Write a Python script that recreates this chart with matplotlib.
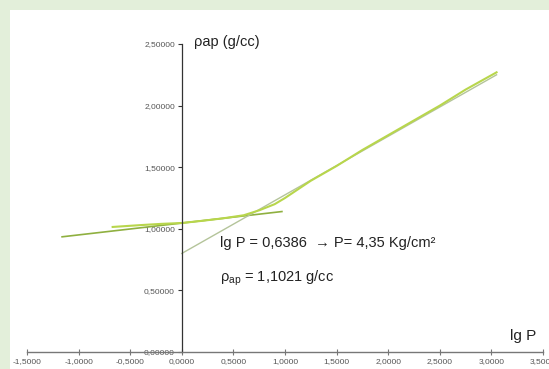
import matplotlib
matplotlib.use('Agg')
import matplotlib.pyplot as plt
from matplotlib.patches import Rectangle
from matplotlib.ticker import FuncFormatter

plt.rcParams['font.family'] = ['Liberation Sans', 'DejaVu Sans']
plt.rcParams['mathtext.fontset'] = 'custom'
plt.rcParams['mathtext.rm'] = 'Liberation Sans'

# measured compaction curve (lg P vs apparent density)
lg_p = [-0.67, -0.4, -0.2, 0.0, 0.2, 0.4, 0.6, 0.75, 0.9, 1.0, 1.25,
        1.5, 1.75, 2.0, 2.25, 2.5, 2.75, 3.05]
rho = [1.015, 1.03, 1.04, 1.047, 1.065, 1.085, 1.11, 1.15, 1.2, 1.25, 1.39,
       1.51, 1.64, 1.76, 1.88, 2.0, 2.13, 2.27]

# fitted straight lines (end points)
low_fit_x = [-1.16, 0.97]
low_fit_y = [0.935, 1.14]
high_fit_x = [0.0, 3.05]
high_fit_y = [0.80, 2.25]

x_ticks = [-1.5, -1.0, -0.5, 0.0, 0.5, 1.0, 1.5, 2.0, 2.5, 3.0, 3.5]
y_ticks = [0.0, 0.5, 1.0, 1.5, 2.0, 2.5]

fig = plt.figure(figsize=(5.49, 3.69), dpi=100)
fig.patch.set_facecolor('#e3efda')
fig.patches.append(Rectangle((10 / 549, 0), 1, 359 / 369, transform=fig.transFigure,
                             facecolor='white', edgecolor='none', zorder=-5))

ax = fig.add_axes([27 / 549, 17 / 369, 516 / 549, 308 / 369])
ax.set_zorder(2)
ax.set_facecolor('none')

ax.plot(low_fit_x, low_fit_y, color='#8fb040', lw=1.2)
ax.plot(high_fit_x, high_fit_y, color='#b4c49a', lw=1.0)
ax.plot(lg_p, rho, color='#b8d64c', lw=1.5)

ax.set_xlim(-1.5, 3.5)
ax.set_ylim(0, 2.5)

ax.spines['top'].set_visible(False)
ax.spines['right'].set_visible(False)
ax.spines['left'].set_position(('data', 0))
ax.spines['left'].set_color('#333333')
ax.spines['bottom'].set_color('#777777')
ax.spines['left'].set_linewidth(0.9)
ax.spines['bottom'].set_linewidth(1.0)

ax.set_xticks(x_ticks)
ax.set_yticks(y_ticks)
ax.xaxis.set_major_formatter(FuncFormatter(lambda v, p: ('%.4f' % v).replace('.', ',')))
ax.yaxis.set_major_formatter(FuncFormatter(lambda v, p: ('%.5f' % v).replace('.', ',')))
ax.tick_params(axis='x', direction='inout', length=4, width=0.8, colors='#777777',
               labelsize=6, labelcolor='#555555', pad=2)
ax.tick_params(axis='y', direction='out', length=3, width=0.8, colors='#333333',
               labelsize=6, labelcolor='#555555', pad=2)

ax.text(0.12, 2.52, 'ρap (g/cc)', fontsize=10.5, color='#222222', va='center', clip_on=False)
ax.text(0.37, 0.885, 'lg P = 0,6386  → P= 4,35 Kg/cm²', fontsize=10.5, color='#222222', va='center')
ax.text(0.37, 0.60, r'ρ$_\mathrm{ap}$ = 1,1021 g/cc', fontsize=10.5, color='#222222', va='center')
ax.text(3.18, 0.13, 'lg P', fontsize=11, color='#222222', va='center')

plt.savefig('out.png', dpi=100, facecolor=fig.get_facecolor())
